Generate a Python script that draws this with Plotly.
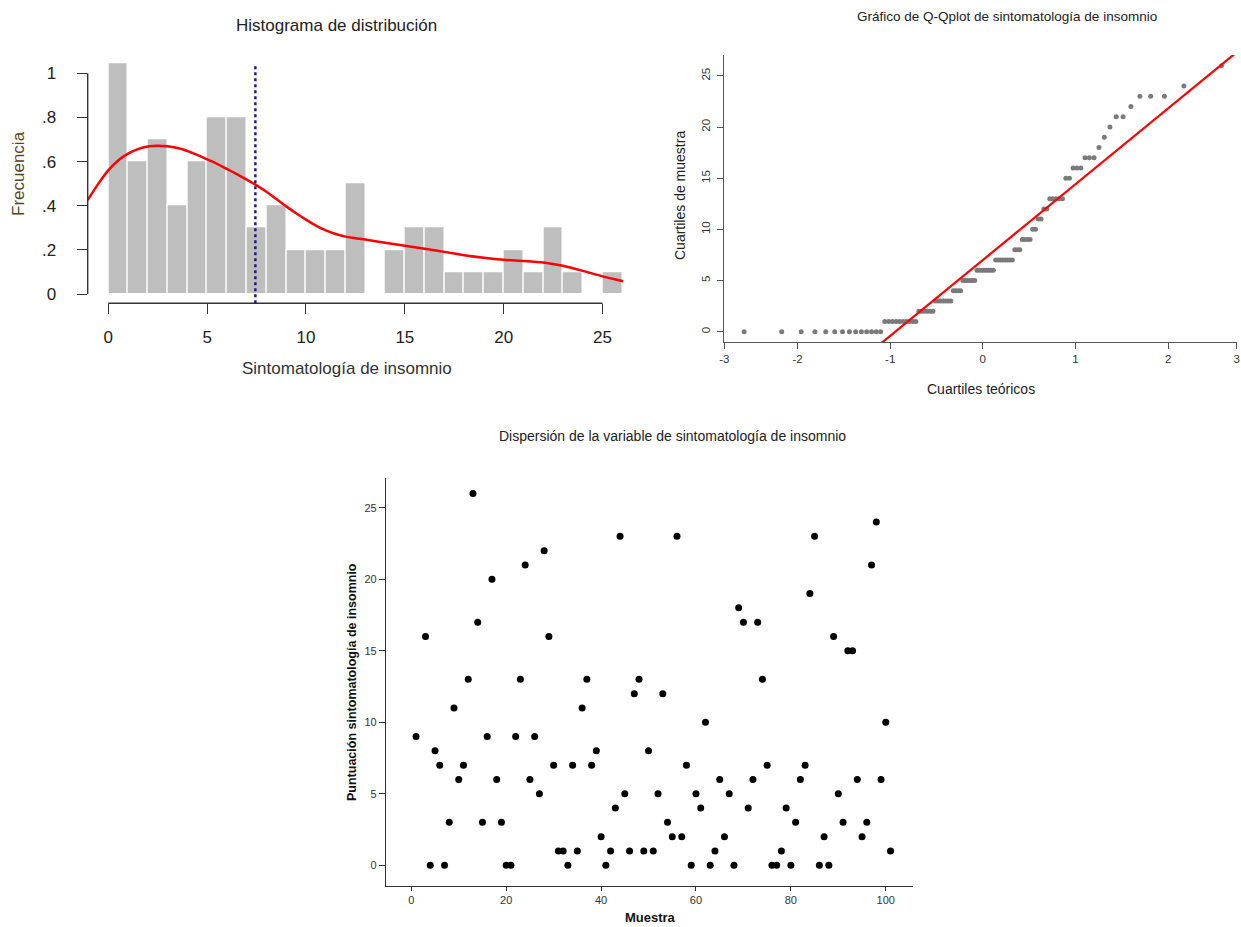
import plotly.graph_objects as go
import numpy as np
from statistics import NormalDist

W, H = 1241, 927

# ---------------- data ----------------
muestra = [1] + list(range(3, 102))
puntuacion = [9, 16, 0, 8, 7, 0, 3, 11, 6,
              7, 13, 26, 17, 3, 9, 20, 6, 3, 0,
              0, 9, 13, 21, 6, 9, 5, 22, 16, 7,
              1, 1, 0, 7, 1, 11, 13, 7, 8, 2,
              0, 1, 4, 23, 5, 1, 12, 13, 1, 8,
              1, 5, 12, 3, 2, 23, 2, 7, 0, 5,
              4, 10, 0, 1, 6, 2, 5, 0, 18, 17,
              4, 6, 17, 13, 7, 0, 0, 1, 4, 0,
              3, 6, 7, 19, 23, 0, 2, 0, 16, 5,
              3, 15, 15, 6, 2, 3, 21, 24, 6, 10, 1]

# kernel density curve drawn on the histogram
densidad_x = [-1.04, -0.5, 0.0, 0.5, 1.0, 1.5, 2.0, 2.5, 3.0, 3.5, 4.0, 4.5, 5.0,
              5.5, 6.0, 6.5, 7.0, 7.5, 8.0, 8.5, 9.0, 9.5, 10.0, 10.5, 11.0, 11.5,
              12.0, 12.5, 13.0, 14.0, 15.0, 16.0, 17.0, 18.0, 19.0, 20.0, 21.0,
              22.0, 23.0, 24.0, 25.0, 26.05]
densidad_y = [0.426, 0.500, 0.560, 0.605, 0.636, 0.656, 0.668, 0.672, 0.669, 0.661,
              0.648, 0.630, 0.610, 0.590, 0.567, 0.543, 0.518, 0.492, 0.463, 0.430,
              0.397, 0.366, 0.337, 0.310, 0.288, 0.272, 0.260, 0.253, 0.247, 0.232,
              0.219, 0.205, 0.191, 0.176, 0.164, 0.155, 0.150, 0.143, 0.128, 0.105,
              0.080, 0.058]
media_linea = 7.44
escala_frecuencia = 0.1

hist_xticks = [0, 5, 10, 15, 20, 25]
hist_yticks = [0, 0.2, 0.4, 0.6, 0.8, 1.0]
hist_yticktext = ["0", ".2", ".4", ".6", ".8", "1"]

qq_xticks = [-2.79, -2, -1, 0, 1, 2, 2.74]
qq_xticktext = ["-3", "-2", "-1", "0", "1", "2", "3"]
qq_yticks = [0, 5, 10, 15, 20, 25]

sc_xticks = [0, 20, 40, 60, 80, 100]
sc_yticks = [0, 5, 10, 15, 20, 25]

# ---------------- derived quantities ----------------
limites = list(range(0, 27))
conteos = []
for k in limites[1:]:
    c = sum(1 for v in puntuacion if (k - 1 < v <= k) or (k == 1 and v == 0))
    conteos.append(c)
centros = [k - 0.5 for k in limites[1:]]
alturas = [c * escala_frecuencia for c in conteos]

n = len(puntuacion)
ordenados = sorted(puntuacion)
teoricos = [NormalDist().inv_cdf((i - 0.5) / n) for i in range(1, n + 1)]
q1, q3 = np.quantile(ordenados, [0.25, 0.75])
z1, z3 = NormalDist().inv_cdf(0.25), NormalDist().inv_cdf(0.75)
pendiente = (q3 - q1) / (z3 - z1)
intercepto = q1 - pendiente * z1
linea_x = [-3.0, 3.0]
linea_y = [intercepto + pendiente * x for x in linea_x]


def px(x):
    return x / W


def py(y):
    return 1 - y / H


FONT = "Liberation Sans, Arial, sans-serif"

fig = go.Figure()

# ---- histogram ----
fig.add_trace(go.Bar(x=centros, y=alturas, width=1,
                     marker=dict(color="#bebebe", line=dict(color="white", width=1.2)),
                     xaxis="x", yaxis="y", showlegend=False))
fig.add_trace(go.Scatter(x=densidad_x, y=densidad_y, mode="lines",
                         line=dict(color="#ff0000", width=2.5, shape="spline", smoothing=0.6),
                         xaxis="x", yaxis="y", showlegend=False))

# ---- QQ plot ----
fig.add_trace(go.Scatter(x=teoricos, y=ordenados, mode="markers",
                         marker=dict(color="#7a7a7a", size=5),
                         xaxis="x2", yaxis="y2", showlegend=False))
fig.add_trace(go.Scatter(x=linea_x, y=linea_y, mode="lines",
                         line=dict(color="#ff0000", width=2.2),
                         xaxis="x2", yaxis="y2", showlegend=False))

# ---- scatter ----
fig.add_trace(go.Scatter(x=muestra, y=puntuacion, mode="markers",
                         marker=dict(color="black", size=7),
                         xaxis="x3", yaxis="y3", showlegend=False))

axis_common = dict(showgrid=False, zeroline=False, ticks="outside", automargin=False)

fig.update_layout(
    template="none",
    width=W, height=H, autosize=False,
    margin=dict(l=0, r=0, t=0, b=0, pad=0),
    paper_bgcolor="white", plot_bgcolor="white",
    font=dict(family=FONT, color="#222"),
    bargap=0,
    xaxis=dict(domain=[px(87.7), px(623.3)], range=[-1.04, 26.05], anchor="y",
               tickvals=hist_xticks, ticklen=10, tickwidth=1.4, tickcolor="#333",
               showline=False, tickfont=dict(size=17, color="#222"),
               ticklabelstandoff=8, **axis_common),
    yaxis=dict(domain=[py(303.3), py(63.3)], range=[-0.042, 1.045], anchor="x",
               tickvals=hist_yticks, ticktext=hist_yticktext, ticklen=10, tickwidth=1.4,
               tickcolor="#333", showline=False, tickfont=dict(size=17, color="#222"),
               ticklabelstandoff=17, **axis_common),
    xaxis2=dict(domain=[px(724.3), px(1236.7)], range=[-2.79, 2.74], anchor="y2",
                tickvals=qq_xticks, ticktext=qq_xticktext, ticklen=6, tickcolor="#555",
                showline=True, linecolor="#555", linewidth=1.2,
                tickfont=dict(size=11.5, color="#333"), **axis_common),
    yaxis2=dict(domain=[py(342.3), py(55)], range=[-1.04, 27.04], anchor="x2",
                tickvals=qq_yticks, ticklen=6, tickcolor="#555", tickangle=-90,
                showline=True, linecolor="#555", linewidth=1.2, ticklabelstandoff=3,
                tickfont=dict(size=11.5, color="#333"), **axis_common),
    xaxis3=dict(domain=[px(386), px(913.3)], range=[-5.33, 105.8], anchor="y3",
                tickvals=sc_xticks, ticklen=4, tickcolor="#333",
                showline=True, linecolor="#333", linewidth=1.2,
                tickfont=dict(size=11, color="#333"), **axis_common),
    yaxis3=dict(domain=[py(885.7), py(478.3)], range=[-1.43, 27.06], anchor="x3",
                tickvals=sc_yticks, ticklen=6, tickcolor="#333",
                showline=True, linecolor="#333", linewidth=1.2,
                tickfont=dict(size=11, color="#333"), **axis_common),
)

# R-style detached axis lines for the histogram (span first to last tick)
fig.add_shape(type="line", xref="x", yref="y domain",
              x0=min(hist_xticks), x1=max(hist_xticks), y0=0, y1=0,
              line=dict(color="#333", width=1.4))
fig.add_shape(type="line", xref="x domain", yref="y",
              x0=0, x1=0, y0=min(hist_yticks), y1=max(hist_yticks),
              line=dict(color="#333", width=1.4))
# mean line
fig.add_shape(type="line", xref="x", yref="y domain",
              x0=media_linea, x1=media_linea, y0=0, y1=0.99,
              line=dict(color="#1c1c8f", width=2.5, dash="dot"))

ann = [
    dict(text="Histograma de distribución", x=px(337), y=py(25), size=17, color="#222", angle=0, bold=False),
    dict(text="Sintomatología de insomnio", x=px(347), y=py(368), size=17, color="#333", angle=0, bold=False),
    dict(text="Frecuencia", x=px(18), y=py(174), size=17, color="#5c4326", angle=-90, bold=False),
    dict(text="Gráfico de Q-Qplot de sintomatología de insomnio", x=px(1007), y=py(17), size=13.5, color="#222", angle=0, bold=False),
    dict(text="Cuartiles de muestra", x=px(680), y=py(196), size=14, color="#222", angle=-90, bold=False),
    dict(text="Cuartiles teóricos", x=px(981), y=py(389), size=14, color="#222", angle=0, bold=False),
    dict(text="Dispersión de la variable de sintomatología de insomnio", x=px(673), y=py(436), size=14, color="#222", angle=0, bold=False),
    dict(text="Puntuación sintomatología de insomnio", x=px(352), y=py(682), size=12.5, color="#111", angle=-90, bold=True),
    dict(text="Muestra", x=px(650), y=py(917), size=13, color="#111", angle=0, bold=True),
]
for a in ann:
    t = f"<b>{a['text']}</b>" if a["bold"] else a["text"]
    fig.add_annotation(text=t, x=a["x"], y=a["y"], xref="paper", yref="paper",
                       xanchor="center", yanchor="middle", showarrow=False,
                       textangle=a["angle"], font=dict(size=a["size"], color=a["color"], family=FONT))

fig.write_html("out.html", config={"displayModeBar": False},
               post_script="document.body.style.margin='0px';")
